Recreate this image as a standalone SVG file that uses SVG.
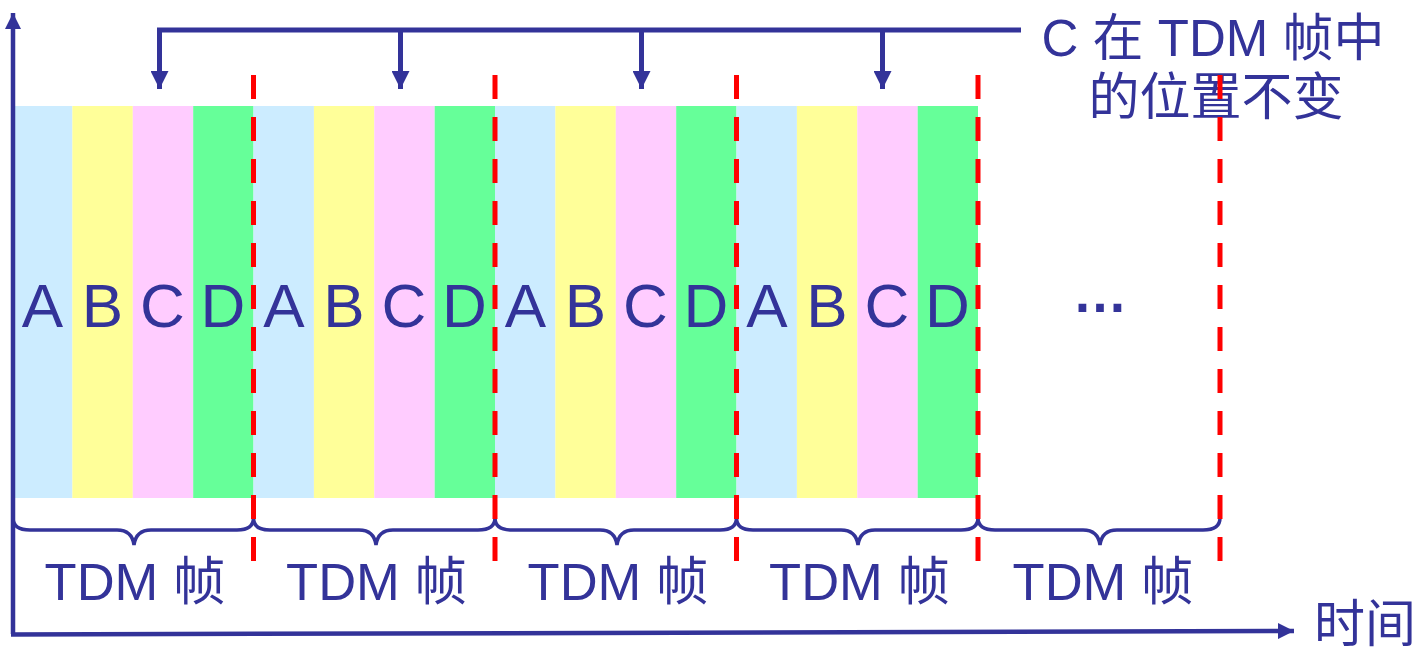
<svg xmlns="http://www.w3.org/2000/svg" width="1420" height="651" viewBox="0 0 1420 651">
  <defs>
    <style>
      .ca{fill:#CCECFF}.cb{fill:#FFFF99}.cc{fill:#FFCCFF}.cd{fill:#66FF99}
      .lbl{font-family:"Liberation Sans","Noto Sans CJK SC",sans-serif;fill:#333399;text-anchor:middle}
      .big{font-size:62px}
      .mid{font-size:51px}
      .tdm{font-size:52.5px}
      .navy{stroke:#333399;fill:none}
      .red{stroke:#FF0000;stroke-width:5;stroke-dasharray:24 18;fill:none}
      .brace{stroke:#333399;stroke-width:3.5;fill:none}
    </style>
    <marker id="ah" viewBox="0 0 10 10" refX="10" refY="5" markerWidth="3.6" markerHeight="3.6" markerUnits="strokeWidth" orient="auto">
      <path d="M0,0 L10,5 L0,10 z" fill="#333399"/>
    </marker>
    <g id="frame">
      <rect class="ca" x="0" y="106" width="60.4" height="392"/>
      <rect class="cb" x="60.4" y="106" width="60.4" height="392"/>
      <rect class="cc" x="120.8" y="106" width="60.4" height="392"/>
      <rect class="cd" x="181.2" y="106" width="60.3" height="392"/>
      <text class="lbl big" x="30.5" y="327">A</text>
      <text class="lbl big" x="90.5" y="327">B</text>
      <text class="lbl big" x="150.5" y="327">C</text>
      <text class="lbl big" x="211" y="327">D</text>
    </g>
  </defs>

  <g id="frame1"><use href="#frame" transform="translate(12,0)"/></g>
  <g id="frame2"><use href="#frame" transform="translate(253.5,0)"/></g>
  <g id="frame3"><use href="#frame" transform="translate(495,0)"/></g>
  <g id="frame4"><use href="#frame" transform="translate(736.5,0)"/></g>
  <g id="ellipsis"><text class="lbl" x="1100" y="312" style="font-size:55px;font-weight:bold">…</text></g>

  <g id="note">
    <text class="lbl mid" x="1213" y="56">C 在 TDM 帧中</text>
    <text class="lbl mid" x="1216" y="115">的位置不变</text>
  </g>

  <g id="frame-labels">
    <text class="lbl tdm" x="135" y="600">TDM 帧</text>
    <text class="lbl tdm" x="376.5" y="600">TDM 帧</text>
    <text class="lbl tdm" x="618" y="600">TDM 帧</text>
    <text class="lbl tdm" x="859.5" y="600">TDM 帧</text>
    <text class="lbl tdm" x="1103" y="600">TDM 帧</text>
  </g>
  <g id="time-label"><text class="lbl mid" x="1365" y="642">时间</text></g>

  <g id="connectors">
    <!-- axes -->
    <line class="navy" x1="13" y1="634" x2="13" y2="13" stroke-width="4.5" marker-end="url(#ah)"/>
    <line class="navy" x1="11" y1="634.5" x2="1294" y2="631" stroke-width="4.5" marker-end="url(#ah)"/>
    <!-- top connector -->
    <polyline class="navy" points="1021,30 159.5,30 159.5,40" stroke-width="5" stroke-linejoin="miter"/>
    <line class="navy" x1="159.5" y1="30" x2="159.5" y2="89" stroke-width="5" marker-end="url(#ah)"/>
    <line class="navy" x1="400.5" y1="30" x2="400.5" y2="89" stroke-width="5" marker-end="url(#ah)"/>
    <line class="navy" x1="641.5" y1="30" x2="641.5" y2="89" stroke-width="5" marker-end="url(#ah)"/>
    <line class="navy" x1="882.5" y1="30" x2="882.5" y2="89" stroke-width="5" marker-end="url(#ah)"/>
    <!-- braces -->
    <path class="brace" d="M13,518 Q13,530 30,530 L117,530 Q132,530 134,545 Q136,530 151,530 L237,530 Q253.5,530 253.5,518"/>
    <path class="brace" d="M253.5,518 Q253.5,530 270,530 L359,530 Q374,530 376,545 Q378,530 393,530 L478,530 Q495,530 495,518"/>
    <path class="brace" d="M495,518 Q495,530 512,530 L600,530 Q615,530 617,545 Q619,530 634,530 L720,530 Q736.5,530 736.5,518"/>
    <path class="brace" d="M736.5,518 Q736.5,530 753,530 L841,530 Q856,530 858,545 Q860,530 875,530 L961,530 Q978,530 978,518"/>
    <path class="brace" d="M978,518 Q978,530 995,530 L1083,530 Q1098,530 1100,545 Q1102,530 1117,530 L1203,530 Q1220,530 1220,518"/>
    <!-- red dashed frame boundaries -->
    <line class="red" x1="253.5" y1="75" x2="253.5" y2="561"/>
    <line class="red" x1="495" y1="75" x2="495" y2="561"/>
    <line class="red" x1="736.5" y1="75" x2="736.5" y2="561"/>
    <line class="red" x1="978" y1="75" x2="978" y2="561"/>
    <line class="red" x1="1220" y1="75" x2="1220" y2="561"/>
  </g>
</svg>
